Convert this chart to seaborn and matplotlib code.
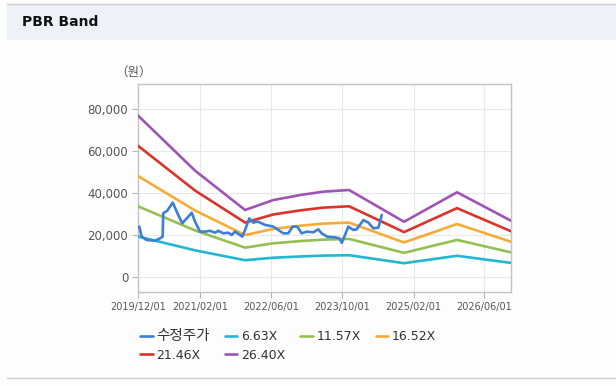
import pandas as pd
import numpy as np
import matplotlib.pyplot as plt
import matplotlib.ticker as mticker
from matplotlib.lines import Line2D
from matplotlib.patches import Rectangle
import seaborn as sns

# band vertices (PBR multiples of BPS)
band_dates = ['2019-12-01', '2020-12-26', '2021-12-04', '2022-06-14', '2022-12-16',
              '2023-05-22', '2023-11-17', '2024-11-28', '2025-11-26', '2026-12-01']
band_663 = [19290, 12710, 8010, 9190, 9790, 10200, 10400, 6600, 10120, 6730]
band_1157 = [33660, 22180, 13980, 16040, 17090, 17790, 18140, 11520, 17670, 11740]
band_1652 = [48060, 31670, 19960, 22900, 24400, 25410, 25900, 16450, 25230, 16770]
band_2146 = [62430, 41140, 25920, 29740, 31700, 33010, 33650, 21370, 32770, 21780]
band_2640 = [76800, 50610, 31890, 36590, 38990, 40600, 41400, 26290, 40310, 26800]

# adjusted stock price (수정주가)
price_dates = ['2019-12-10', '2019-12-26', '2020-01-30', '2020-03-27', '2020-04-30',
               '2020-05-18', '2020-05-22', '2020-06-19', '2020-07-26', '2020-09-02',
               '2020-09-30', '2020-10-30', '2020-12-03', '2020-12-26', '2021-01-29',
               '2021-03-04', '2021-04-08', '2021-05-12', '2021-06-04', '2021-07-08',
               '2021-08-11', '2021-09-03', '2021-09-26', '2021-10-30', '2021-11-15',
               '2021-12-04', '2022-01-02', '2022-01-29', '2022-03-01', '2022-04-20',
               '2022-06-16', '2022-07-20', '2022-08-23', '2022-09-26', '2022-10-27',
               '2022-11-27', '2022-12-27', '2023-01-31', '2023-03-17', '2023-04-20',
               '2023-05-13', '2023-06-21', '2023-08-13', '2023-09-11', '2023-09-28',
               '2023-10-20', '2023-11-12', '2023-12-16', '2024-01-08', '2024-02-23',
               '2024-03-28', '2024-05-01', '2024-06-05', '2024-06-28']
price = [24000, 19200, 17600, 17300, 18400,
         19200, 30300, 31600, 35400, 29500,
         25600, 27900, 30600, 26400, 21600,
         21600, 22000, 21100, 22000, 20800,
         21100, 20000, 21600, 20000, 19200,
         22400, 27900, 25900, 26400, 24800,
         24000, 22400, 20800, 20800, 24000,
         24000, 20800, 21600, 21300, 22700,
         20800, 19200, 18900, 18400, 16300,
         20000, 24000, 22400, 22700, 27100,
         25900, 23200, 23500, 29500]

tick_dates = ['2019-12-01', '2021-02-01', '2022-06-01', '2023-10-01', '2025-02-01', '2026-06-01']
tick_labels = ['2019/12/01', '2021/02/01', '2022/06/01', '2023/10/01', '2025/02/01', '2026/06/01']

bands = {'6.63X': band_663, '11.57X': band_1157, '16.52X': band_1652,
         '21.46X': band_2146, '26.40X': band_2640}
colors = {'수정주가': '#3d7fd6', '6.63X': '#22b6cf', '11.57X': '#93c051',
          '16.52X': '#f5ab35', '21.46X': '#d8342a', '26.40X': '#9e54b5'}

sns.set_theme(style='white')
plt.rcParams['font.family'] = ['DejaVu Sans', 'Noto Sans CJK KR']

W, H = 616, 386
fig = plt.figure(figsize=(W / 100, H / 100), dpi=100)
fig.patch.set_facecolor('#fdfdfd')

# header strip
fig.add_artist(Rectangle((7 / W, 1 - 40 / H), 1, 36 / H, transform=fig.transFigure,
                         facecolor='#eef2f7', edgecolor='none', zorder=0))
fig.add_artist(Line2D([7 / W, 1], [1 - 4 / H, 1 - 4 / H], transform=fig.transFigure,
                      color='#cfcfcf', lw=1))
fig.add_artist(Line2D([7 / W, 1], [1 - 378 / H, 1 - 378 / H], transform=fig.transFigure,
                      color='#cfcfcf', lw=1))
fig.text(22 / W, 1 - 22 / H, 'PBR Band', fontsize=10, fontweight='bold',
         color='#111111', va='center', ha='left')

ax = fig.add_axes([138 / W, 1 - 292 / H, (511 - 138) / W, (292 - 84) / H])
ax.set_facecolor('white')

bd = pd.to_datetime(band_dates)
for name, vals in bands.items():
    sns.lineplot(x=bd, y=vals, ax=ax, color=colors[name], lw=1.9, label=name, zorder=3)
sns.lineplot(x=pd.to_datetime(price_dates), y=price, ax=ax, color=colors['수정주가'],
             lw=1.9, label='수정주가', zorder=4)

ax.set_xlim(pd.Timestamp('2019-12-01'), pd.Timestamp('2026-12-01'))
ax.set_ylim(-7100, 91800)
ax.set_xticks(pd.to_datetime(tick_dates))
ax.set_xticklabels(tick_labels, fontsize=7)
ax.set_yticks([0, 20000, 40000, 60000, 80000])
ax.yaxis.set_major_formatter(mticker.FuncFormatter(lambda v, p: f'{v:,.0f}'))
ax.tick_params(axis='y', labelsize=8.5)
ax.tick_params(axis='both', left=True, bottom=True, length=4, width=0.8,
               color='#b5b5b5', labelcolor='#555555', pad=3)
ax.grid(True, color='#e8e8e8', lw=0.8)
for s in ax.spines.values():
    s.set_color('#c4c4c4')
    s.set_linewidth(1)
ax.set_xlabel('')
ax.set_ylabel('')

fig.text(115 / W, 1 - 72 / H, '（원）', fontsize=9, color='#555555', va='center', ha='left',
         family=['Noto Sans CJK KR', 'DejaVu Sans'])

# legend in row-major order
h, l = ax.get_legend_handles_labels()
lookup = dict(zip(l, h))
order = ['수정주가', '21.46X', '6.63X', '26.40X', '11.57X', '16.52X']
leg = ax.legend([lookup[k] for k in order], order, ncol=4, loc='upper left',
                bbox_to_anchor=(140 / W, 1 - 328 / H), bbox_transform=fig.transFigure,
                frameon=False, fontsize=9, handlelength=1.0, handletextpad=0.3,
                columnspacing=1.2, borderpad=0, borderaxespad=0, labelspacing=0.45,
                labelcolor='#333333')
leg.get_texts()[0].set_fontsize(10.5)

plt.savefig('out.png', dpi=100, facecolor=fig.get_facecolor())
